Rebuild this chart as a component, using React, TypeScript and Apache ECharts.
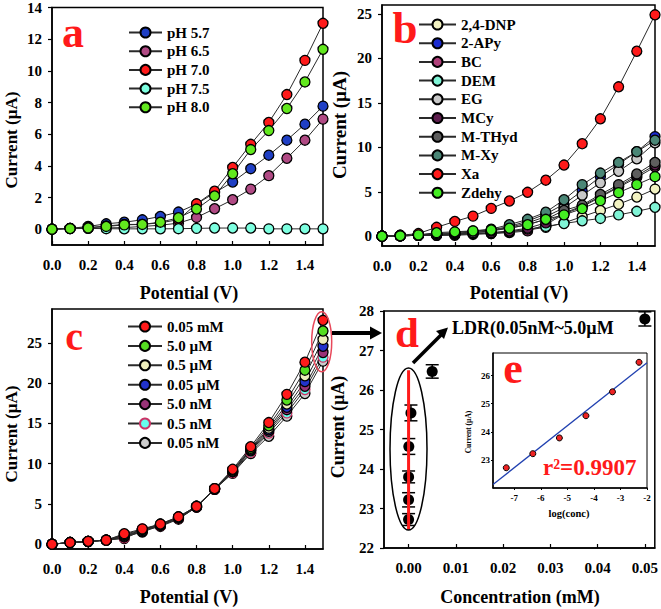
import React, { useEffect, useRef } from "react";
import * as echarts from "echarts";

// ---------- data ----------
const POT = [0, 0.1, 0.2, 0.3, 0.4, 0.5, 0.6, 0.7, 0.8, 0.9, 1.0, 1.1, 1.2, 1.3, 1.4, 1.5];

// panel a (pH)
const PH_NAMES = ["pH 5.7", "pH 6.5", "pH 7.0", "pH 7.5", "pH 8.0"];
const PH_COLORS = ["#1f3fc4", "#b04a84", "#ff1a1a", "#7dffe0", "#62e81e"];
const PH_57 = [0, 0.05, 0.17, 0.34, 0.44, 0.59, 0.8, 1.08, 1.58, 2.3, 2.98, 3.82, 4.67, 5.62, 6.63, 7.77];
const PH_65 = [0, 0.03, 0.05, 0.08, 0.1, 0.17, 0.25, 0.38, 0.74, 1.29, 1.86, 2.53, 3.38, 4.48, 5.62, 6.95];
const PH_70 = [0, 0.05, 0.1, 0.2, 0.3, 0.3, 0.4, 0.6, 1.6, 2.4, 3.9, 5.36, 6.74, 8.5, 10.66, 13.0];
const PH_75 = [0, 0.05, 0.05, 0.03, 0.02, 0.02, 0.02, 0.03, 0.05, 0.07, 0.07, 0.07, 0.02, 0.02, 0.02, 0.02];
const PH_80 = [0, 0.04, 0.08, 0.17, 0.27, 0.3, 0.44, 0.72, 1.27, 2.1, 3.5, 5.03, 6.23, 7.62, 9.3, 11.36];
const PH_VALUES = [PH_57, PH_65, PH_70, PH_75, PH_80];

// panel b (interferents)
const INT_NAMES = ["2,4-DNP", "2-APy", "BC", "DEM", "EG", "MCy", "M-THyd", "M-Xy", "Xa", "Zdehy"];
const INT_COLORS = ["#f2f2c2", "#1a2ad0", "#b0407a", "#80f4d6", "#c8c8c8", "#5e1e4e", "#5e5e5e", "#4a8676", "#ff1a1a", "#44ee22"];
const DNP = [0, 0.05, 0.1, 0.2, 0.2, 0.3, 0.3, 0.5, 0.7, 1.0, 1.5, 2.2, 2.9, 3.6, 4.4, 5.3];
const APY = [0, 0.05, 0.1, 0.2, 0.3, 0.5, 0.7, 1.1, 1.7, 2.5, 3.6, 5.1, 6.7, 8.1, 9.5, 11.2];
const BC = [0, 0.05, 0.1, 0.1, 0.1, 0.2, 0.3, 0.4, 0.6, 1.3, 2.5, 3.3, 4.4, 5.5, 6.6, 7.8];
const DEM = [0, 0.05, 0.1, 0.1, 0.2, 0.3, 0.4, 0.5, 0.8, 1.1, 1.43, 1.73, 2.0, 2.4, 2.8, 3.25];
const EG = [0, 0.05, 0.1, 0.2, 0.3, 0.4, 0.6, 1.0, 1.5, 2.2, 3.2, 4.6, 6.0, 7.3, 8.7, 10.5];
const MCY = [0, 0.05, 0.1, 0.1, 0.2, 0.3, 0.4, 0.6, 0.9, 1.5, 2.6, 3.4, 4.5, 5.6, 6.8, 8.0];
const MTHYD = [0, 0.05, 0.1, 0.2, 0.3, 0.4, 0.6, 0.9, 1.3, 1.9, 2.9, 3.5, 4.7, 5.8, 7.0, 8.3];
const MXY = [0, 0.1, 0.15, 0.3, 0.4, 0.6, 0.8, 1.3, 1.9, 2.7, 4.1, 5.8, 7.1, 8.3, 9.5, 10.8];
const XA = [0, 0.1, 0.3, 1.0, 1.66, 2.26, 3.13, 3.96, 4.94, 6.3, 8.0, 10.4, 13.2, 16.8, 20.8, 24.9];
const ZDEHY = [0, 0.05, 0.15, 0.4, 0.5, 0.6, 0.7, 0.9, 1.3, 1.9, 2.4, 3.1, 4.0, 4.9, 5.8, 6.7];
const INT_VALUES = [DNP, APY, BC, DEM, EG, MCY, MTHYD, MXY, XA, ZDEHY];

// panel c (concentrations)
const CONC_NAMES = ["0.05 mM", "5.0 µM", "0.5 µM", "0.05 µM", "5.0 nM", "0.5 nM", "0.05 nM"];
const CONC_COLORS = ["#ff1a1a", "#55dd22", "#eeeebb", "#2233cc", "#993377", "#66ffee", "#cccccc"];
const CONC_BORDERS = ["#000", "#000", "#000", "#000", "#000", "#cc3366", "#000"];
const C_005MM = [0, 0.2, 0.35, 0.5, 1.3, 1.9, 2.5, 3.4, 4.7, 6.9, 9.3, 12.1, 15.1, 18.6, 22.6, 27.8];
const C_5UM = [0, 0.2, 0.35, 0.5, 1.2, 1.8, 2.5, 3.4, 4.7, 6.9, 9.2, 11.9, 14.7, 17.9, 21.6, 26.47];
const C_05UM = [0, 0.2, 0.33, 0.5, 1.1, 1.7, 2.4, 3.3, 4.7, 6.9, 9.1, 11.8, 14.4, 17.4, 20.9, 25.42];
const C_005UM = [0, 0.2, 0.33, 0.5, 1.0, 1.6, 2.4, 3.3, 4.6, 6.8, 9.0, 11.7, 14.2, 17.0, 20.2, 24.57];
const C_5NM = [0, 0.2, 0.33, 0.5, 0.9, 1.5, 2.3, 3.2, 4.6, 6.8, 9.0, 11.6, 14.0, 16.7, 19.6, 23.8];
const C_05NM = [0, 0.2, 0.33, 0.5, 0.8, 1.9, 2.3, 3.2, 4.6, 6.8, 8.9, 11.4, 13.8, 16.3, 19.2, 23.22];
const C_005NM = [0, 0.2, 0.33, 0.5, 0.7, 1.7, 2.2, 3.1, 4.6, 6.8, 8.8, 11.26, 13.4, 15.9, 18.7, 22.72];
const CONC_VALUES = [C_005MM, C_5UM, C_05UM, C_005UM, C_5NM, C_05NM, C_005NM];

// panel d (current vs concentration, mM)
const D_CONC = [0.00000005, 0.0000005, 0.000005, 0.00005, 0.0005, 0.005, 0.05];
const D_CURR = [22.72, 23.22, 23.8, 24.57, 25.42, 26.47, 27.8];
const D_ERR = [0.15, 0.18, 0.15, 0.2, 0.2, 0.17, 0.18];
const LDR_LINE_X = [0, 0];
const LDR_LINE_Y = [22.46, 26.5];

// panel e (calibration)
const E_LOG = [-7.3, -6.3, -5.3, -4.3, -3.3, -2.3];
const E_CURR = [22.72, 23.22, 23.78, 24.57, 25.42, 26.47];

// tick labels
const POT_TICKS = [0, 0.2, 0.4, 0.6, 0.8, 1.0, 1.2, 1.4];
const A_TICKS = [0, 2, 4, 6, 8, 10, 12, 14];
const B_TICKS = [0, 5, 10, 15, 20, 25];
const C_TICKS = [0, 5, 10, 15, 20, 25];
const D_XTICKS = [0, 0.01, 0.02, 0.03, 0.04, 0.05];
const D_YTICKS = [22, 23, 24, 25, 26, 27, 28];
const E_XTICKS = [-7, -6, -5, -4, -3, -2];
const E_YTICKS = [23, 24, 25, 26];

const FONT = "Liberation Serif";
const RED = "#ff1a1a";

function pairs(xs: number[], ys: number[]) {
  return xs.map((x, i) => [x, ys[i]]);
}

function xAxis(gridIndex: number, min: number, max: number, ticks: number[], digits: number, fs = 15, margin = 12) {
  return {
    type: "value",
    gridIndex,
    min,
    max,
    splitLine: { show: false },
    axisLine: { onZero: false, lineStyle: { color: "#000", width: 1.5 } },
    axisTick: { inside: true, length: 4, customValues: ticks, lineStyle: { color: "#000", width: 1.2 } },
    axisLabel: {
      customValues: ticks,
      formatter: (v: number) => v.toFixed(digits),
      fontFamily: FONT,
      fontWeight: "bold",
      fontSize: fs,
      color: "#000",
      margin,
    },
  };
}

function yAxis(gridIndex: number, min: number, max: number, ticks: number[], fs = 15, margin = 10) {
  return {
    type: "value",
    gridIndex,
    min,
    max,
    splitLine: { show: false },
    axisLine: { onZero: false, lineStyle: { color: "#000", width: 1.5 } },
    axisTick: { length: 4, customValues: ticks, lineStyle: { color: "#000", width: 1.2 } },
    axisLabel: {
      customValues: ticks,
      formatter: (v: number) => String(v),
      fontFamily: FONT,
      fontWeight: "bold",
      fontSize: fs,
      color: "#000",
      margin,
    },
  };
}

function lineSeries(name: string, idx: number, ys: number[], color: string, border = "#000") {
  return {
    type: "line",
    name,
    xAxisIndex: idx,
    yAxisIndex: idx,
    data: pairs(POT, ys),
    symbol: "circle",
    symbolSize: 10,
    lineStyle: { color: "#2a2a2a", width: 1 },
    itemStyle: { color, borderColor: border, borderWidth: 1.3 },
    emphasis: { disabled: true },
  };
}

function legend(names: string[], left: number, top: number, itemWidth: number, gap: number) {
  return {
    data: names,
    orient: "vertical",
    left,
    top,
    itemWidth,
    itemHeight: 12.5,
    itemGap: gap,
    selectedMode: false,
    padding: 0,
    textStyle: { fontFamily: FONT, fontWeight: "bold", fontSize: 15, color: "#000", lineHeight: 15 },
  };
}

function title(text: string, x: number, y: number, vertical: boolean, fs = 17) {
  return {
    type: "text",
    x,
    y,
    rotation: vertical ? Math.PI / 2 : 0,
    style: { text, fontFamily: FONT, fontWeight: "bold", fontSize: fs, fill: "#000", align: "center", verticalAlign: "middle" },
  };
}

function letter(text: string, x: number, y: number, fs: number) {
  return {
    type: "text",
    x,
    y,
    z: 10,
    style: { text, fontFamily: FONT, fontWeight: "bold", fontSize: fs, fill: RED, align: "center", verticalAlign: "middle" },
  };
}

export default function App() {
  const ref = useRef<HTMLDivElement>(null);

  useEffect(() => {
    if (!ref.current) return;
    const chart = echarts.init(ref.current, null, { renderer: "svg" });

    // least-squares fit for panel e
    const n = E_LOG.length;
    const mx = E_LOG.reduce((s, v) => s + v, 0) / n;
    const my = E_CURR.reduce((s, v) => s + v, 0) / n;
    let sxy = 0;
    let sxx = 0;
    for (let i = 0; i < n; i++) {
      sxy += (E_LOG[i] - mx) * (E_CURR[i] - my);
      sxx += (E_LOG[i] - mx) ** 2;
    }
    const slope = sxy / sxx;
    const icpt = my - slope * mx;
    const E_MIN = -7.8;
    const E_MAX = -2;
    const fitLine = [E_MIN, E_MAX].map((x) => [x, icpt + slope * x]);

    const series: any[] = [];
    PH_NAMES.forEach((nm, i) => series.push(lineSeries(nm, 0, PH_VALUES[i], PH_COLORS[i])));
    INT_NAMES.forEach((nm, i) => series.push(lineSeries(nm, 1, INT_VALUES[i], INT_COLORS[i])));
    CONC_NAMES.map((nm, i) => lineSeries(nm, 2, CONC_VALUES[i], CONC_COLORS[i], CONC_BORDERS[i]))
      .reverse()
      .forEach((s) => series.push(s));

    // panel d
    series.push({
      type: "line",
      xAxisIndex: 3,
      yAxisIndex: 3,
      data: pairs(LDR_LINE_X, LDR_LINE_Y),
      symbol: "none",
      lineStyle: { color: RED, width: 3 },
      silent: true,
    });
    series.push({
      type: "custom",
      xAxisIndex: 3,
      yAxisIndex: 3,
      data: D_CONC.map((c, i) => [c, D_CURR[i], D_ERR[i]]),
      encode: { x: 0, y: 1 },
      renderItem: (params: any, api: any) => {
        const x = api.value(0);
        const y = api.value(1);
        const e = api.value(2);
        const t = api.coord([x, y + e]);
        const b = api.coord([x, y - e]);
        const hw = 6.5;
        const st = { stroke: "#000", lineWidth: 1.5 };
        return {
          type: "group",
          children: [
            { type: "line", shape: { x1: t[0], y1: t[1], x2: b[0], y2: b[1] }, style: st },
            { type: "line", shape: { x1: t[0] - hw, y1: t[1], x2: t[0] + hw, y2: t[1] }, style: st },
            { type: "line", shape: { x1: b[0] - hw, y1: b[1], x2: b[0] + hw, y2: b[1] }, style: st },
          ],
        };
      },
      silent: true,
    });
    series.push({
      type: "scatter",
      xAxisIndex: 3,
      yAxisIndex: 3,
      data: pairs(D_CONC, D_CURR),
      symbol: "circle",
      symbolSize: 11,
      itemStyle: { color: "#000", opacity: 1 },
      silent: true,
    });

    // panel e
    series.push({
      type: "line",
      xAxisIndex: 4,
      yAxisIndex: 4,
      data: fitLine,
      symbol: "none",
      lineStyle: { color: "#2040b0", width: 1.3 },
      silent: true,
      z: 6,
    });
    series.push({
      type: "scatter",
      xAxisIndex: 4,
      yAxisIndex: 4,
      data: pairs(E_LOG, E_CURR),
      symbol: "circle",
      symbolSize: 6,
      itemStyle: { color: "#ee2222", borderColor: "#000", borderWidth: 1, opacity: 1 },
      silent: true,
      z: 7,
    });

    const gridStyle = { show: true, borderColor: "#000", borderWidth: 1.5 };

    const option: any = {
      animation: false,
      backgroundColor: "#fff",
      grid: [
        { left: 52, top: 7, width: 271, height: 238, ...gridStyle },
        { left: 382, top: 5, width: 273, height: 241, ...gridStyle },
        { left: 52, top: 309, width: 271, height: 240, ...gridStyle },
        { left: 384, top: 311, width: 271, height: 237, ...gridStyle },
        { left: 493, top: 353, width: 154, height: 135, ...gridStyle, borderWidth: 1 },
      ],
      xAxis: [
        xAxis(0, 0, 1.5, POT_TICKS, 1),
        xAxis(1, 0, 1.5, POT_TICKS, 1),
        xAxis(2, 0, 1.5, POT_TICKS, 1),
        xAxis(3, -0.0052, 0.0521, D_XTICKS, 2),
        { ...xAxis(4, E_MIN, E_MAX, E_XTICKS, 0, 9, 5), axisTick: { inside: false, length: 2, customValues: E_XTICKS, lineStyle: { color: "#000" } } },
      ],
      yAxis: [
        yAxis(0, -1, 14, A_TICKS),
        yAxis(1, -1.1, 26, B_TICKS),
        yAxis(2, -0.6, 29.2, C_TICKS),
        yAxis(3, 22, 28, D_YTICKS),
        { ...yAxis(4, 22, 26.8, E_YTICKS, 9, 3), axisTick: { length: 2, customValues: E_YTICKS, lineStyle: { color: "#000" } } },
      ],
      legend: [
        legend(PH_NAMES, 128, 25, 33, 3.7),
        legend(INT_NAMES, 418, 17, 37, 3.7),
        legend(CONC_NAMES, 127, 319, 34, 4.4),
      ],
      series,
      graphic: [
        title("Current (µA)", 11, 140, true),
        title("Potential (V)", 189, 293, false, 18),
        title("Current (µA)", 339, 125, true, 19),
        title("Potential (V)", 519, 293, false, 18),
        title("Current (µA)", 11, 434, true),
        title("Potential (V)", 189, 597, false, 18),
        title("Current (µA)", 338, 427, true, 18),
        title("Concentration (mM)", 520, 597, false, 18),
        letter("a", 73, 32, 44),
        letter("b", 405, 28, 45),
        letter("c", 74, 336, 40),
        letter("d", 407, 332, 43),
        letter("e", 513, 368, 44),
        {
          type: "text",
          x: 452,
          y: 328,
          style: { text: "LDR(0.05nM~5.0µM", fontFamily: FONT, fontWeight: "bold", fontSize: 18, fill: "#000", align: "left", verticalAlign: "middle" },
        },
        {
          type: "text",
          x: 543,
          y: 467,
          z: 10,
          style: { text: "r²=0.9907", fontFamily: FONT, fontWeight: "bold", fontSize: 23, fill: RED, align: "left", verticalAlign: "middle" },
        },
        {
          type: "text",
          x: 468.5,
          y: 432,
          rotation: Math.PI / 2,
          z: 10,
          style: { text: "Current (µA)", fontFamily: FONT, fontWeight: "bold", fontSize: 7.5, fill: "#000", align: "center", verticalAlign: "middle" },
        },
        {
          type: "text",
          x: 569,
          y: 513,
          z: 10,
          style: { text: "log(conc)", fontFamily: FONT, fontWeight: "bold", fontSize: 10.5, fill: "#000", align: "center", verticalAlign: "middle" },
        },
        // red ellipse in panel c
        { type: "ellipse", shape: { cx: 321.7, cy: 341.7, rx: 10, ry: 30 }, style: { fill: "none", stroke: "#e8485a", lineWidth: 1.5 }, z: 10 },
        // arrow from c to d
        { type: "line", shape: { x1: 332, y1: 333, x2: 372, y2: 333 }, style: { stroke: "#000", lineWidth: 4 }, z: 10 },
        { type: "polygon", shape: { points: [[382, 333], [370, 326.5], [370, 339.5]] }, style: { fill: "#000" }, z: 10 },
        // black ellipse in panel d
        { type: "ellipse", shape: { cx: 408.5, cy: 449, rx: 18.5, ry: 81 }, style: { fill: "none", stroke: "#000", lineWidth: 1.5 }, z: 10 },
        // arrow in d
        { type: "line", shape: { x1: 413, y1: 363, x2: 441, y2: 335 }, style: { stroke: "#000", lineWidth: 3.5 }, z: 10 },
        { type: "polygon", shape: { points: [[448, 327.5], [444, 339], [436, 331]] }, style: { fill: "#000" }, z: 10 },
      ],
    };

    chart.setOption(option);
    return () => chart.dispose();
  }, []);

  return <div ref={ref} style={{ position: "fixed", left: 0, top: 0, width: 661, height: 609 }} />;
}
